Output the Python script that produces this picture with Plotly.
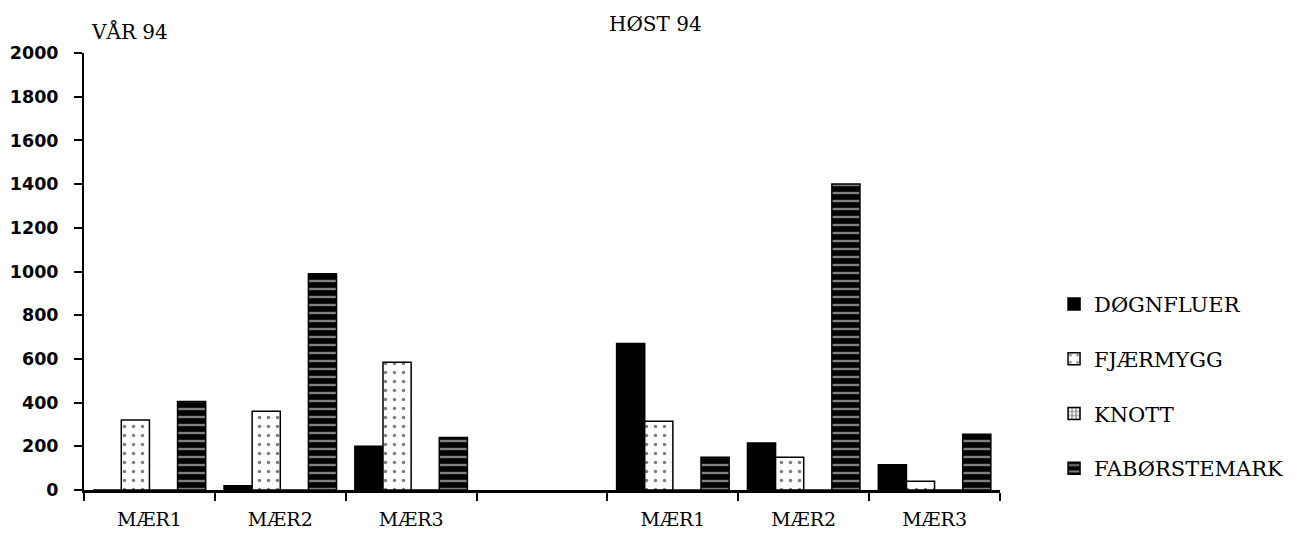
import plotly.graph_objects as go

# ---- data ----
categories = ["MÆR1", "MÆR2", "MÆR3", "", "MÆR1", "MÆR2", "MÆR3"]
season_titles = ["VÅR 94", "HØST 94"]
series_names = ["DØGNFLUER", "FJÆRMYGG", "KNOTT", "FABØRSTEMARK"]
dognfluer = [0, 20, 200, None, 670, 215, 115]
fjaermygg = [320, 360, 585, None, 315, 150, 40]
knott = [0, 0, 0, None, 0, 0, 0]
faborstemark = [405, 990, 240, None, 150, 1400, 255]
y_ticks = [0, 200, 400, 600, 800, 1000, 1200, 1400, 1600, 1800, 2000]

series_values = [dognfluer, fjaermygg, knott, faborstemark]
styles = [
    dict(color="black", pattern=dict(shape="")),
    dict(color="white", pattern=dict(shape=".", fgcolor="black", bgcolor="white", size=9, solidity=0.12)),
    dict(color="white", pattern=dict(shape="+", fgcolor="black", bgcolor="white", size=5, solidity=0.5)),
    dict(color="black", pattern=dict(shape="-", fgcolor="white", bgcolor="black", size=8, solidity=0.3)),
]

xpos = list(range(len(categories)))
serif = "DejaVu Serif, Liberation Serif, serif"

fig = go.Figure()
for name, vals, st in zip(series_names, series_values, styles):
    fig.add_trace(go.Bar(
        x=xpos, y=vals, name=name, legendgroup=name,
        marker=dict(color=st["color"], pattern=st["pattern"],
                    line=dict(color="black", width=1.5)),
    ))

boundaries = [i - 0.5 for i in range(len(categories) + 1)]

fig.update_layout(
    width=1304, height=534,
    margin=dict(l=84, r=304, t=53, b=44, autoexpand=False),
    paper_bgcolor="white", plot_bgcolor="white",
    barmode="group", bargap=0.14, bargroupgap=0,
    showlegend=True,
    legend=dict(
        x=1.059, xanchor="left", y=0.472, yanchor="top",
        font=dict(family=serif, size=21, color="black"),
        tracegroupgap=24.5, bgcolor="rgba(0,0,0,0)",
    ),
    xaxis=dict(
        range=[-0.5, len(categories) - 0.5], automargin=False,
        tickmode="array", tickvals=xpos, ticktext=categories,
        ticks="", showgrid=False, zeroline=False,
        showline=True, linecolor="black", linewidth=2.5,
        tickfont=dict(family=serif, size=19, color="black"),
        ticklabelstandoff=10,
        minor=dict(tickmode="array", tickvals=boundaries, ticks="outside",
                   ticklen=8, tickwidth=1.5, tickcolor="black", showgrid=False),
    ),
    yaxis=dict(
        range=[0, 2000], tickmode="array", tickvals=y_ticks, automargin=False,
        ticks="outside", ticklen=8, tickwidth=1.5, tickcolor="black",
        showgrid=False, zeroline=False,
        showline=True, linecolor="black", linewidth=2,
        tickfont=dict(family="DejaVu Sans", size=17.5, color="black", weight="bold"),
        ticklabelstandoff=12,
    ),
    annotations=[
        dict(text=season_titles[0], xref="paper", yref="paper", x=0.0055, y=1.05,
             xanchor="left", yanchor="middle", showarrow=False,
             font=dict(family=serif, size=20, color="black")),
        dict(text=season_titles[1], xref="paper", yref="paper", x=0.571, y=1.066,
             xanchor="left", yanchor="middle", showarrow=False,
             font=dict(family=serif, size=20, color="black")),
    ],
)

fig.write_html("out.html")
